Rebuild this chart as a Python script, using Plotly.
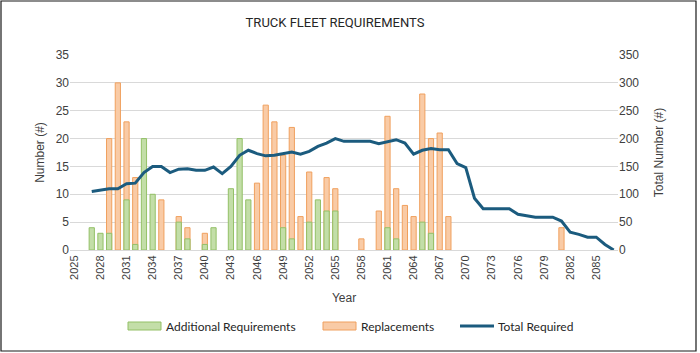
import plotly.graph_objects as go

years = [str(y) for y in range(2025, 2088)]
N = None
additional = [N, N, 4, 3, 3, N, 9, 1, 20, 10, N, N, 5, 2, N, 1, 4, N, 11, 20, 9, N, N, N, 4, 2, N, 5, 9, 7, 7,
              N, N, N, N, N, 4, 2, N, N, 5, 3, N, N, N, N, N, N, N, N, N, N, N, N, N, N, N, N, N, N, N, N, N]
replacements = [N, N, N, N, 20, 30, 23, 13, N, N, 9, N, 6, 4, N, 3, N, N, N, N, N, 12, 26, 23, 17, 22, 6, 14, N, 13, 11,
                N, N, 2, N, 7, 24, 11, 8, 6, 28, 20, 21, 6, N, N, N, N, N, N, N, N, N, N, N, N, 4, N, N, N, N, N, N]
total = [N, N, 105, 108, 110, 110, 119, 120, 139, 150, 150, 139, 145, 146, 143, 143, 149, 137, 150, 170, 179, 173, 169,
         170, 173, 176, 172, 177, 186, 192, 200, 195, 195, 195, 195, 191, 195, 198, 192, 172, 179, 182, 180, 180, 155,
         148, 93, 74, 74, 74, 74, 64, 62, 59, 59, 59, 52, 32, 28, 23, 23, 10, 0]
tick_years = [str(y) for y in range(2025, 2088, 3)]

GREEN_FILL, GREEN_LINE = "#C3DEA8", "#93C067"
ORANGE_FILL, ORANGE_LINE = "#F9CBA6", "#F0A05E"
BLUE = "#1B5B7E"

fig = go.Figure()
fig.add_trace(go.Bar(x=years, y=replacements, name="Replacements", width=0.6,
                     marker=dict(color=ORANGE_FILL, line=dict(color=ORANGE_LINE, width=1)),
                     showlegend=False))
fig.add_trace(go.Bar(x=years, y=additional, name="Additional Requirements", width=0.6,
                     marker=dict(color=GREEN_FILL, line=dict(color=GREEN_LINE, width=1)),
                     showlegend=False))
fig.add_trace(go.Scatter(x=years, y=total, name="Total Required", mode="lines", yaxis="y2",
                         line=dict(color=BLUE, width=3), showlegend=False))

pw, ph = 548.0, 195.0
def px(x):
    return (x - 70) / pw
def py(y):
    return (250 - y) / ph

fig.update_layout(
    width=700, height=353,
    margin=dict(l=70, r=82, t=55, b=103),
    paper_bgcolor="white", plot_bgcolor="white",
    barmode="overlay",
    showlegend=False,
    font=dict(family="Liberation Sans, Arial, sans-serif", size=11, color="#404040"),
    title=dict(text="TRUCK FLEET REQUIREMENTS", x=px(335), xanchor="center", xref="paper",
               y=1 - 22 / 353, yanchor="middle",
               font=dict(family="Roboto, Liberation Sans, sans-serif", size=13, color="#262626")),
    xaxis=dict(type="category", categoryorder="array", categoryarray=years, range=[-0.5, 62.5],
               tickmode="array", tickvals=tick_years, ticktext=tick_years, tickangle=-90,
               showgrid=False, showline=True, linecolor="#d9d9d9", ticks="",
               title=dict(text="Year", standoff=14, font=dict(size=12, color="#404040")),
               tickfont=dict(size=11, color="#404040")),
    yaxis=dict(range=[0, 35], dtick=5, showgrid=True, gridcolor="#d9d9d9", gridwidth=1,
               zeroline=False, ticks="", tickfont=dict(size=12, color="#404040"),
               title=dict(text="Number (#)", standoff=8, font=dict(size=12, color="#404040"))),
    yaxis2=dict(range=[0, 350], dtick=50, overlaying="y", side="right", showgrid=False,
                zeroline=False, ticks="", tickfont=dict(size=12, color="#404040"),
                title=dict(text="Total Number (#)", standoff=16, font=dict(size=12, color="#404040"))),
)

# manual legend (swatches + real text)
legend_font = dict(family="Lato, Liberation Sans, sans-serif", size=12, color="#262626")
ly = 326
fig.add_shape(type="rect", xref="paper", yref="paper", x0=px(128), x1=px(161), y0=py(330), y1=py(322),
              fillcolor=GREEN_FILL, line=dict(color=GREEN_LINE, width=1))
fig.add_annotation(text="Additional Requirements", xref="paper", yref="paper", x=px(164), y=py(ly),
                   xanchor="left", yanchor="middle", showarrow=False, font=legend_font)
fig.add_shape(type="rect", xref="paper", yref="paper", x0=px(323), x1=px(356), y0=py(330), y1=py(322),
              fillcolor=ORANGE_FILL, line=dict(color=ORANGE_LINE, width=1))
fig.add_annotation(text="Replacements", xref="paper", yref="paper", x=px(359), y=py(ly),
                   xanchor="left", yanchor="middle", showarrow=False, font=legend_font)
fig.add_shape(type="line", xref="paper", yref="paper", x0=px(460), x1=px(494), y0=py(ly), y1=py(ly),
              line=dict(color=BLUE, width=3))
fig.add_annotation(text="Total Required", xref="paper", yref="paper", x=px(496), y=py(ly),
                   xanchor="left", yanchor="middle", showarrow=False, font=legend_font)

# outer chart border
fig.add_shape(type="rect", xref="paper", yref="paper",
              x0=px(1), x1=px(696), y0=py(351), y1=py(1),
              line=dict(color="#1a1a1a", width=1.2), fillcolor="rgba(0,0,0,0)", layer="above")

fig.write_html("out.html")
